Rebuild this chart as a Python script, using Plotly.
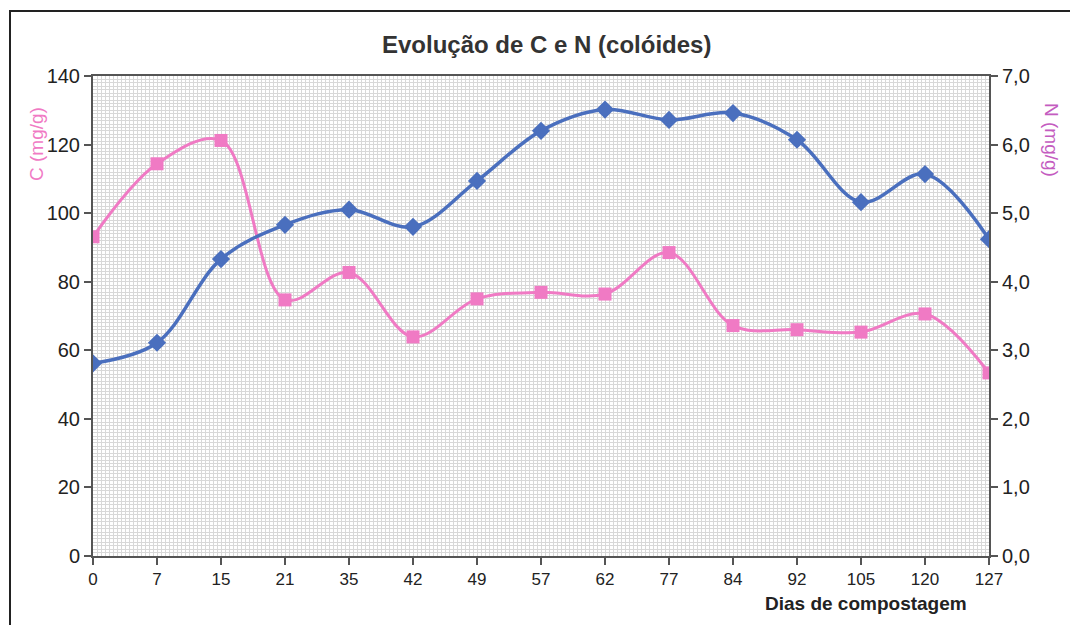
import plotly.graph_objects as go

dias = ["0", "7", "15", "21", "35", "42", "49", "57", "62", "77", "84", "92", "105", "120", "127"]
carbono = [93.1, 114.4, 121.2, 74.7, 82.7, 63.9, 75.0, 76.9, 76.4, 88.5, 67.2, 66.0, 65.3, 70.6, 53.4]
azoto = [2.81, 3.11, 4.33, 4.83, 5.05, 4.80, 5.47, 6.20, 6.51, 6.36, 6.46, 6.07, 5.16, 5.57, 4.62]
y_left_ticks = [0, 20, 40, 60, 80, 100, 120, 140]
y_right_ticks = [0, 1, 2, 3, 4, 5, 6, 7]
y_right_labels = ["0,0", "1,0", "2,0", "3,0", "4,0", "5,0", "6,0", "7,0"]

PINK = "#f07ac4"
BLUE = "#4a6fbe"
FONT = "Liberation Sans, Arial, sans-serif"

xs = list(range(len(dias)))

W, H = 1076, 625
L, R, T, B = 93, 87, 76, 69
pw, ph = W - L - R, H - T - B

def px(x):
    return (x - L) / pw

def py(y):
    return 1 - (y - T) / ph

fig = go.Figure()
fig.add_trace(go.Scatter(
    x=xs, y=carbono, name="C", yaxis="y",
    mode="lines+markers",
    line=dict(color=PINK, width=3, shape="spline", smoothing=1),
    marker=dict(symbol="square", size=13, color=PINK),
))
fig.add_trace(go.Scatter(
    x=xs, y=azoto, name="N", yaxis="y2",
    mode="lines+markers",
    line=dict(color=BLUE, width=3.5, shape="spline", smoothing=1),
    marker=dict(symbol="diamond", size=14, color=BLUE),
))

grid_minor = dict(showgrid=True, gridcolor="#d8d8d8", gridwidth=1)

fig.update_layout(
    width=W, height=H,
    margin=dict(l=L, r=R, t=T, b=B),
    paper_bgcolor="white",
    plot_bgcolor="white",
    showlegend=False,
    font=dict(family=FONT, color="#222"),
    xaxis=dict(
        range=[0, len(dias) - 1],
        tickvals=xs, ticktext=dias,
        tickfont=dict(size=17, color="#222"),
        showline=True, linecolor="#555", linewidth=2, mirror=True,
        ticks="outside", ticklen=7, tickcolor="#555", tickwidth=1.5,
        showgrid=False, zeroline=False,
        minor=dict(dtick=1/16, **grid_minor),
    ),
    yaxis=dict(
        range=[0, 140],
        tickvals=y_left_ticks,
        tickfont=dict(size=20, color="#222"),
        showline=True, linecolor="#555", linewidth=2,
        ticks="outside", ticklen=7, tickcolor="#555", tickwidth=1.5,
        showgrid=False, zeroline=False,
        minor=dict(dtick=1, **grid_minor),
    ),
    yaxis2=dict(
        range=[0, 7],
        overlaying="y", side="right",
        tickvals=y_right_ticks, ticktext=y_right_labels,
        tickfont=dict(size=20, color="#222"),
        showline=True, linecolor="#555", linewidth=2,
        ticks="outside", ticklen=7, tickcolor="#555", tickwidth=1.5,
        showgrid=False, zeroline=False,
    ),
    annotations=[
        dict(text="<b>Evolução de C e N (colóides)</b>", xref="paper", yref="paper",
             x=px(546), y=py(45), xanchor="center", yanchor="middle", showarrow=False,
             font=dict(size=24, color="#333", family=FONT)),
        dict(text="C (mg/g)", xref="paper", yref="paper",
             x=px(37), y=py(144), xanchor="center", yanchor="middle", showarrow=False,
             textangle=-90, font=dict(size=19, color=PINK, family=FONT)),
        dict(text="N (mg/g)", xref="paper", yref="paper",
             x=px(1052), y=py(140), xanchor="center", yanchor="middle", showarrow=False,
             textangle=90, font=dict(size=19, color="#c45cc0", family=FONT)),
        dict(text="<b>Dias de compostagem</b>", xref="paper", yref="paper",
             x=px(866), y=py(603), xanchor="center", yanchor="middle", showarrow=False,
             font=dict(size=19, color="#222", family=FONT)),
    ],
    shapes=[
        dict(type="line", xref="paper", yref="paper", x0=px(9), x1=px(1070), y0=py(11), y1=py(11),
             line=dict(color="#222", width=2)),
        dict(type="line", xref="paper", yref="paper", x0=px(10), x1=px(10), y0=py(11), y1=py(625),
             line=dict(color="#222", width=2)),
    ],
)

fig.write_html("out.html")
